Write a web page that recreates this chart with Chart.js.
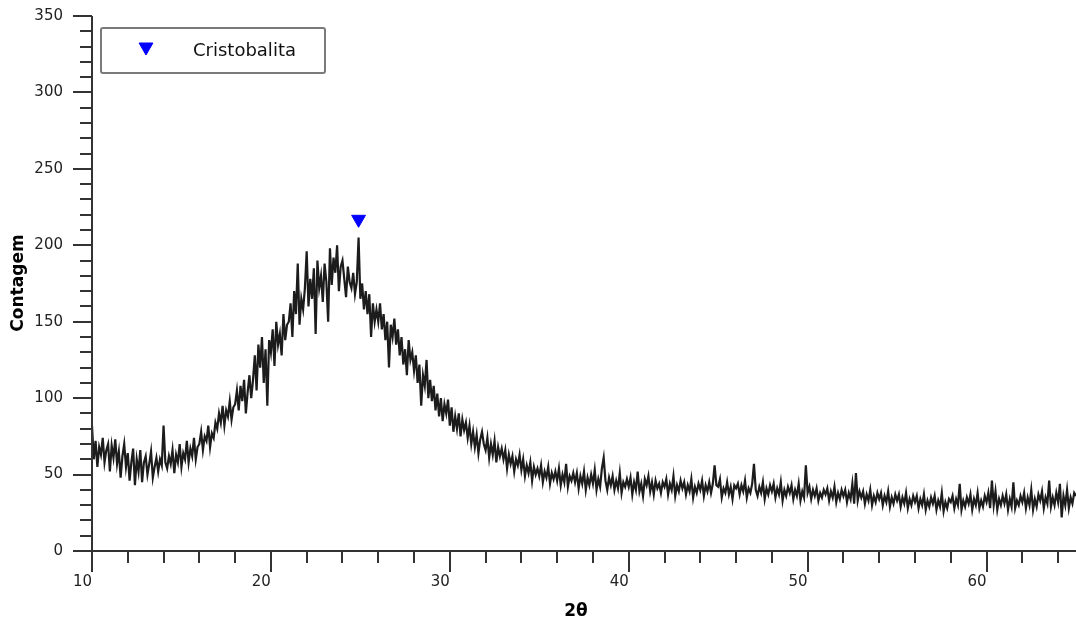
<!DOCTYPE html>
<html><head><meta charset="utf-8">
<script src="https://cdn.jsdelivr.net/npm/chart.js@4/dist/chart.umd.min.js"></script>
<style>html,body{margin:0;padding:0;background:#fff;overflow:hidden}#wrap{width:1076px;height:622px}</style>
</head><body><div id="wrap"><canvas id="c" width="1076" height="622"></canvas></div>
<script>
// 2θ grid of the scan
const thetaStart = 10;
const thetaStep = 0.1;
// counts, one row per degree (10.0 ... 64.9), then 65.0
const counts = [
 82, 60, 72, 55, 68, 63, 74, 58, 66, 70,
 52, 69, 61, 73, 57, 65, 48, 62, 70, 55,
 64, 46, 58, 67, 43, 60, 52, 66, 45, 58,
 62, 50, 57, 65, 48, 55, 61, 52, 60, 56,
 82, 58, 54, 62, 57, 66, 51, 63, 58, 70,
 55, 64, 60, 72, 58, 67, 62, 74, 60, 68,
 70, 78, 66, 75, 72, 82, 68, 77, 74, 84,
 80, 90, 84, 95, 82, 92, 88, 98, 86, 94,
 96, 105, 92, 108, 98, 112, 90, 104, 115, 100,
 112, 128, 105, 135, 120, 140, 110, 132, 95, 138,
 130, 145, 121, 150, 135, 142, 128, 155, 138, 148,
 150, 162, 140, 170, 155, 188, 148, 165, 158, 172,
 196, 160, 178, 165, 185, 142, 190, 172, 180, 163,
 188, 176, 150, 198, 174, 192, 182, 200, 170, 186,
 190, 178, 166, 186, 176, 172, 182, 168, 176, 205,
 165, 175, 158, 170, 155, 168, 140, 162, 150, 158,
 150, 162, 145, 155, 138, 150, 120, 148, 140, 152,
 135, 145, 128, 140, 122, 132, 115, 138, 125, 130,
 118, 128, 110, 122, 95, 115, 108, 125, 100, 112,
 98, 108, 92, 103, 88, 100, 85, 96, 90, 99,
 82, 94, 78, 88, 80, 90, 75, 86, 79, 84,
 74, 82, 70, 78, 68, 76, 64, 73, 78, 70,
 66, 74, 61, 70, 63, 72, 58, 68, 62, 67,
 60, 66, 54, 63, 57, 62, 52, 60, 56, 63,
 53, 60, 49, 56, 51, 58, 46, 55, 50, 54,
 49, 56, 45, 52, 48, 55, 44, 51, 47, 52,
 46, 54, 43, 50, 45, 57, 42, 49, 46, 51,
 45, 51, 41, 49, 44, 52, 40, 48, 43, 50,
 44, 53, 40, 47, 42, 54, 61, 46, 40, 48,
 43, 49, 40, 46, 41, 51, 38, 45, 42, 47,
 42, 48, 37, 45, 40, 52, 39, 44, 36, 47,
 43, 49, 39, 45, 37, 46, 41, 44, 38, 45,
 42, 47, 37, 44, 40, 49, 36, 43, 39, 46,
 41, 45, 37, 43, 39, 47, 35, 42, 38, 44,
 40, 46, 36, 43, 39, 45, 38, 44, 56, 43,
 42, 47, 35, 41, 38, 45, 37, 42, 34, 43,
 41, 44, 37, 43, 39, 46, 35, 41, 38, 44,
 57, 40, 36, 42, 38, 45, 34, 41, 37, 43,
 39, 44, 35, 41, 37, 45, 33, 40, 36, 42,
 38, 43, 34, 40, 36, 44, 33, 39, 35, 56,
 38, 42, 34, 40, 36, 41, 33, 38, 35, 40,
 37, 41, 33, 39, 35, 42, 32, 38, 34, 40,
 36, 40, 32, 38, 34, 44, 31, 51, 33, 39,
 35, 39, 31, 37, 33, 40, 30, 36, 32, 38,
 34, 38, 30, 36, 32, 39, 29, 35, 31, 37,
 33, 37, 29, 35, 31, 38, 28, 34, 30, 36,
 32, 36, 28, 34, 30, 37, 27, 33, 29, 35,
 31, 36, 27, 33, 29, 38, 26, 32, 28, 34,
 32, 36, 28, 34, 30, 44, 27, 33, 29, 35,
 31, 37, 27, 34, 30, 38, 28, 33, 29, 36,
 32, 38, 28, 46, 30, 39, 27, 34, 30, 36,
 31, 37, 27, 34, 29, 45, 28, 33, 30, 36,
 32, 38, 28, 35, 30, 40, 27, 34, 29, 37,
 33, 39, 28, 35, 31, 46, 29, 35, 30, 38,
 32, 44, 22, 36, 30, 40, 28, 35, 31, 38,
 36
];
// identified phase marker
const phaseName = 'Cristobalita';
const phasePositions = [24.9];
const phaseMarkerHeights = [217];
// axes
const xMin = 10, xMax = 65;
const yMin = 0, yMax = 350;
const xTickLabels = [10, 20, 30, 40, 50, 60];
const yTickLabels = [0, 50, 100, 150, 200, 250, 300, 350];
const xTitle = '2θ';
const yTitle = 'Contagem';

const scanPoints = counts.map((v, i) => ({ x: Math.round((thetaStart + i * thetaStep) * 100) / 100, y: v }));
const markerPoints = phasePositions.map((p, i) => ({ x: p, y: phaseMarkerHeights[i] }));

const decor = {
  id: 'decor',
  afterDraw(chart) {
    const ctx = chart.ctx, a = chart.chartArea;
    const xs = chart.scales.x, ys = chart.scales.y;
    ctx.save();
    ctx.strokeStyle = '#333';
    ctx.lineWidth = 2;
    ctx.beginPath();
    ctx.moveTo(a.left, a.top); ctx.lineTo(a.left, a.bottom + 1);
    ctx.moveTo(a.left - 1, a.bottom); ctx.lineTo(a.right, a.bottom);
    // y ticks
    for (let v = yMin; v <= yMax; v += 10) {
      const y = Math.round(ys.getPixelForValue(v));
      const len = v % 50 === 0 ? 19 : 12;
      ctx.moveTo(a.left - len, y); ctx.lineTo(a.left, y);
    }
    // x ticks
    for (let v = xMin; v < xMax; v += 2) {
      const x = Math.round(xs.getPixelForValue(v));
      const len = v % 10 === 0 ? 21 : 12;
      ctx.moveTo(x, a.bottom); ctx.lineTo(x, a.bottom + len);
    }
    ctx.stroke();

    // legend box
    ctx.lineWidth = 2;
    ctx.strokeStyle = '#7a7a7a';
    ctx.beginPath();
    if (ctx.roundRect) ctx.roundRect(101, 28, 224, 45, 2); else ctx.rect(101, 28, 224, 45);
    ctx.stroke();
    ctx.fillStyle = '#0000ff';
    ctx.strokeStyle = '#0000ff';
    ctx.lineWidth = 1;
    Chart.helpers.drawPoint(ctx, { pointStyle: 'triangle', rotation: 180, radius: 8, borderWidth: 1 }, 146, 47);
    ctx.fillStyle = '#111';
    ctx.font = '18px "DejaVu Sans"';
    ctx.textBaseline = 'middle';
    ctx.textAlign = 'left';
    ctx.fillText(phaseName, 193, 51);

    // axis titles
    ctx.font = 'bold 17px "DejaVu Sans"';
    ctx.fillStyle = '#000';
    ctx.textAlign = 'center';
    ctx.fillText(xTitle, 576, 612);
    ctx.save();
    ctx.translate(19, 283);
    ctx.rotate(-Math.PI / 2);
    ctx.fillText(yTitle, 0, 0);
    ctx.restore();
    ctx.restore();
  }
};

new Chart(document.getElementById('c'), {
  type: 'line',
  data: {
    datasets: [
      { label: phaseName, data: markerPoints, showLine: false, pointStyle: 'triangle', rotation: 180,
        pointRadius: 8, pointBackgroundColor: '#0000ff', pointBorderColor: '#0000ff', pointBorderWidth: 1, order: 0 },
      { label: 'scan', data: scanPoints, borderColor: '#1c1c1c', borderWidth: 2.2, pointRadius: 0,
        tension: 0, fill: false, order: 1 }
    ]
  },
  options: {
    responsive: false,
    animation: false,
    devicePixelRatio: 1,
    layout: { autoPadding: false, padding: { top: 16, right: 0, left: 0, bottom: 0 } },
    plugins: { legend: { display: false }, tooltip: { enabled: false } },
    scales: {
      x: {
        type: 'linear', min: xMin, max: xMax,
        afterFit(s) { s.height = 71; },
        grid: { display: false, drawTicks: true, tickLength: 22 },
        border: { display: false },
        ticks: { stepSize: 10, autoSkip: false, maxRotation: 0, align: 'end', padding: 0,
          color: '#222', font: { family: 'DejaVu Sans', size: 15 },
          callback: v => xTickLabels.includes(v) ? String(v) : '' }
      },
      y: {
        type: 'linear', min: yMin, max: yMax,
        afterFit(s) { s.width = 92; },
        grid: { display: false, drawTicks: true, tickLength: 29 },
        border: { display: false },
        ticks: { stepSize: 50, autoSkip: false, padding: 0,
          color: '#222', font: { family: 'DejaVu Sans', size: 15 },
          callback: v => yTickLabels.includes(v) ? String(v) : '' }
      }
    }
  },
  plugins: [decor]
});
</script>
</body></html>
